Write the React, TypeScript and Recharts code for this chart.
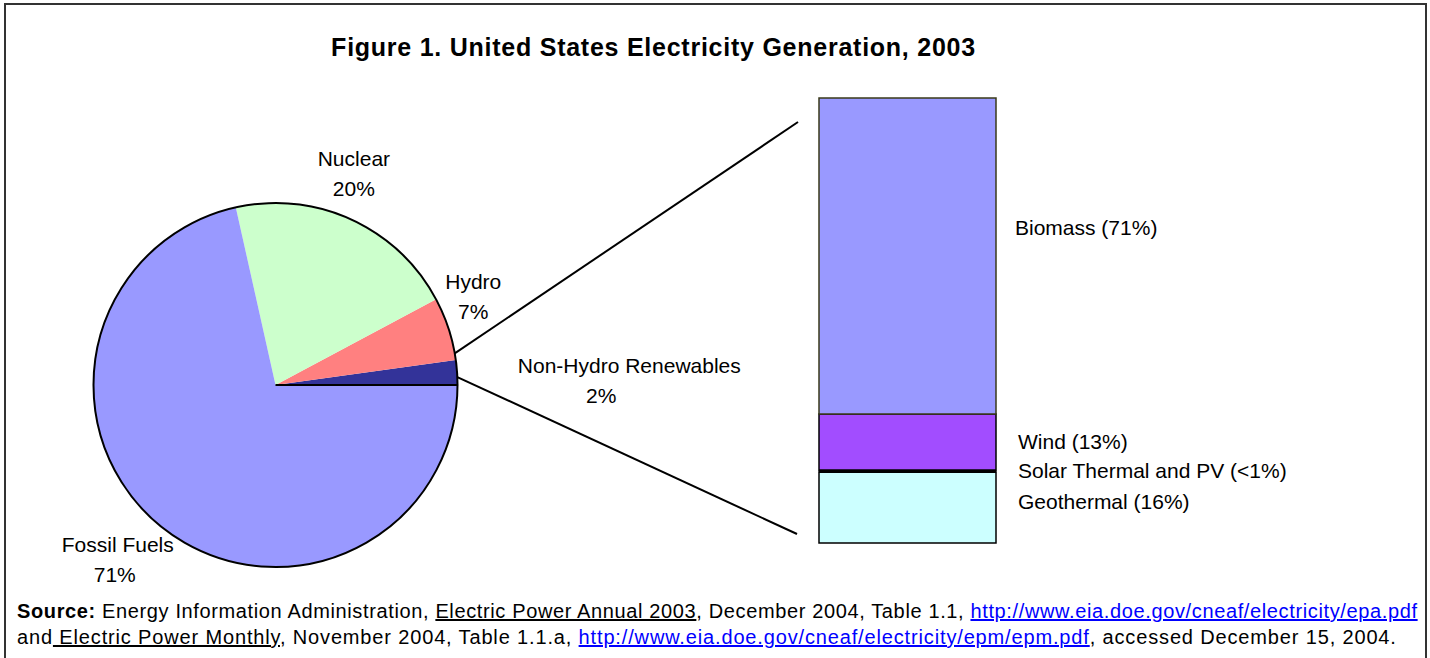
import React from "react";
import { PieChart, Pie, Cell, BarChart, Bar, XAxis, YAxis, LabelList } from "recharts";

// pie: order counter-clockwise from 3 o'clock
const pieNames = ["Non-Hydro Renewables", "Hydro", "Nuclear", "Fossil Fuels"];
const pieValues = [2.2, 5.6, 20.7, 71.5];
const pieLabels = ["2%", "7%", "20%", "71%"];
const pieColors = ["#333399", "#FF8080", "#CCFFCC", "#9999FF"];

// stacked bar: bottom to top
const barNames = ["Geothermal", "Solar Thermal and PV", "Wind", "Biomass"];
const barValues = [15.9, 0.5, 12.6, 71.0];
const barLabels = ["Geothermal (16%)", "Solar Thermal and PV (<1%)", "Wind (13%)", "Biomass (71%)"];
const barColors = ["#CCFFFF", "#000000", "#A24DFF", "#9999FF"];

const FONT = "'Liberation Sans', Arial, sans-serif";
const PIE = { cx: 275.5, cy: 385, r: 182 };
const BAR = { left: 819, top: 98, width: 177, height: 445 };

// label placement relative to slice mid angle
const labelPlace = [
  { r: 354, da: -2, dx2: -28 },
  { r: 220, da: 8, dx2: 0 },
  { r: 233, da: 5, dx2: 0 },
  { r: 230, da: -4.6, dx2: -3 },
];
const barLabelDy = [-6, 0, 0, -28];
const barLabelDx = [22, 22, 22, 19];

const pieData = pieNames.map((name, i) => ({ name, value: pieValues[i], label: pieLabels[i] }));
const barRow: Record<string, number | string> = { name: "Non-Hydro" };
barNames.forEach((n, i) => (barRow["s" + i] = barValues[i]));
const total = barValues.reduce((a, b) => a + b, 0);

const RAD = Math.PI / 180;
const polar = (deg: number, r: number) => [PIE.cx + r * Math.cos(deg * RAD), PIE.cy - r * Math.sin(deg * RAD)];

function PieLabel(props: any) {
  const { index, midAngle } = props;
  const p = labelPlace[index];
  const [x, y] = polar(midAngle + p.da, p.r);
  return (
    <text x={x} y={y} textAnchor="middle" fontFamily={FONT} fontSize={21} fill="#000">
      <tspan x={x}>{pieNames[index]}</tspan>
      <tspan x={x + p.dx2} dy={30}>{pieLabels[index]}</tspan>
    </text>
  );
}

function barLabel(i: number) {
  return (props: any) => {
    const { x, y, width, height } = props;
    return (
      <text x={x + width + barLabelDx[i]} y={y + height / 2 + barLabelDy[i] + 7} fontFamily={FONT} fontSize={21} fill="#000">
        {barLabels[i]}
      </text>
    );
  };
}

// connector anchors on the pie rim (deg) and near the bar
const up = polar(10, PIE.r);
const low = polar(2.5, PIE.r);

export default function App() {
  return (
    <div style={{ position: "absolute", left: 0, top: 0, width: 1430, height: 658, overflow: "hidden", background: "#fff", fontFamily: FONT }}>
      <div style={{ position: "absolute", left: 4, top: 3, width: 1423, height: 700, border: "2px solid #333", boxSizing: "border-box" }} />
      <svg width={1430} height={658} style={{ position: "absolute", left: 0, top: 0 }}>
        <text x={653.5} y={56} textAnchor="middle" fontFamily={FONT} fontWeight="bold" fontSize={25} letterSpacing={0.75} fill="#000">
          Figure 1. United States Electricity Generation, 2003
        </text>
        <line x1={up[0]} y1={up[1]} x2={BAR.left - 21} y2={BAR.top + 24} stroke="#000" strokeWidth={2} />
        <line x1={low[0]} y1={low[1]} x2={BAR.left - 22} y2={BAR.top + BAR.height - 9} stroke="#000" strokeWidth={2} />
      </svg>
      <div style={{ position: "absolute", left: 0, top: 0 }}>
        <PieChart width={760} height={600} margin={{ top: 0, right: 0, bottom: 0, left: 0 }}>
          <Pie
            data={pieData}
            dataKey="value"
            cx={PIE.cx}
            cy={PIE.cy}
            outerRadius={PIE.r}
            startAngle={0}
            endAngle={360}
            stroke="none"
            label={PieLabel}
            labelLine={false}
            isAnimationActive={false}
          >
            {pieData.map((d, i) => (
              <Cell key={d.name} fill={pieColors[i]} />
            ))}
          </Pie>
          <Pie
            data={[{ value: 1 }]}
            dataKey="value"
            cx={PIE.cx}
            cy={PIE.cy}
            outerRadius={PIE.r}
            fill="none"
            stroke="#000"
            strokeWidth={2}
            isAnimationActive={false}
          />
        </PieChart>
      </div>
      <div style={{ position: "absolute", left: BAR.left - 2, top: BAR.top - 2 }}>
        <BarChart
          width={BAR.width + 404}
          height={BAR.height + 4}
          data={[barRow]}
          margin={{ top: 2, right: 402, bottom: 2, left: 2 }}
          barCategoryGap={0}
          style={{ overflow: "visible" }}
        >
          <XAxis dataKey="name" hide />
          <YAxis hide domain={[0, total]} />
          {barNames.map((n, i) => (
            <Bar
              key={n}
              dataKey={"s" + i}
              stackId="a"
              fill={barColors[i]}
              stroke={i === 3 ? "#3A3A1A" : "#000"}
              strokeWidth={i === 1 ? 1 : 1.5}
              isAnimationActive={false}
            >
              <LabelList dataKey={"s" + i} content={barLabel(i)} />
            </Bar>
          ))}
        </BarChart>
      </div>
      <div style={{ position: "absolute", left: 17, top: 598, fontSize: 20, lineHeight: "26px", color: "#000", whiteSpace: "nowrap" }}>
        <div style={{ letterSpacing: 0.63 }}>
          <b>Source:</b> Energy Information Administration, <u>Electric Power Annual 2003</u>, December 2004, Table 1.1,{" "}
          <span style={{ color: "#0000FF", textDecoration: "underline" }}>http://www.eia.doe.gov/cneaf/electricity/epa.pdf</span>
        </div>
        <div style={{ letterSpacing: 0.85 }}>
          and<u> Electric Power Monthly</u>, November 2004, Table 1.1.a,{" "}
          <span style={{ color: "#0000FF", textDecoration: "underline" }}>http://www.eia.doe.gov/cneaf/electricity/epm/epm.pdf</span>, accessed
          December 15, 2004.
        </div>
      </div>
    </div>
  );
}
